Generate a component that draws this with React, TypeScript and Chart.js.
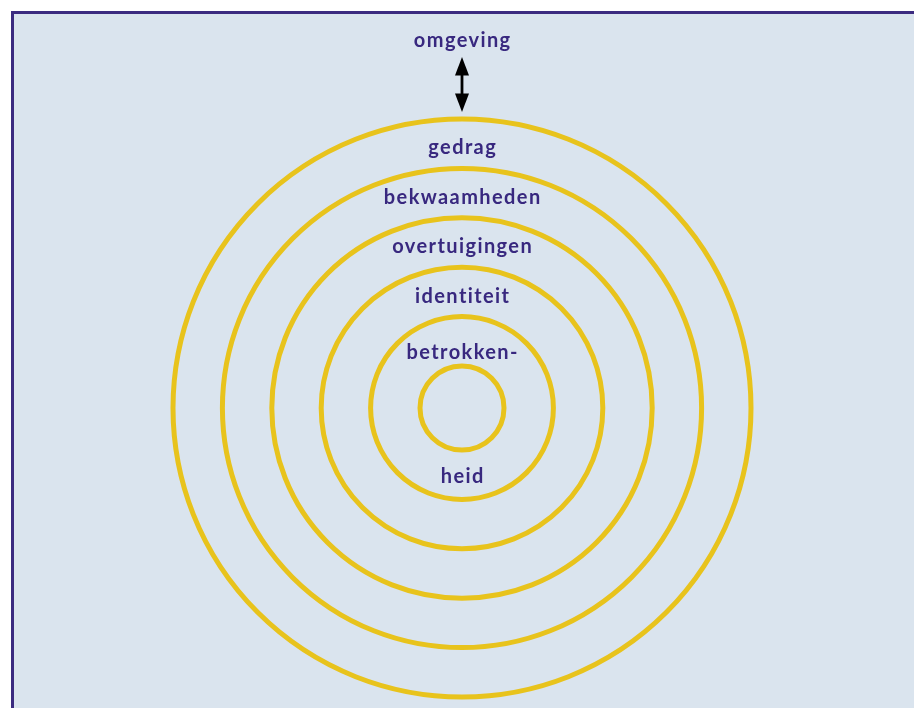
import React, { useEffect, useRef } from "react";
import { Chart, registerables } from "chart.js";

Chart.register(...registerables);

// Ring levels (innermost = 1, outermost = 6) drawn by the radial scale
const ringLevels = [1, 2, 3, 4, 5, 6];
// Layer names, inside-out; the innermost one is split over two lines
const layerLabels: string[][] = [
  ["betrokken-", "heid"],
  ["identiteit"],
  ["overtuigingen"],
  ["bekwaamheden"],
  ["gedrag"],
];
const environmentLabel = "omgeving";

const TEXT_COLOR = "#38287f";
const RING_COLOR = "#e8c31c";
const BG_COLOR = "#dae4ee";
const BORDER_COLOR = "#3b2b80";

const SCALE_MIN = 0.1498;
const SCALE_MAX = 6.2227;

const overlayPlugin = {
  id: "overlay",
  afterDraw(chart: any) {
    const s = chart.scales.r;
    const ctx: CanvasRenderingContext2D = chart.ctx;
    const cx = s.xCenter;
    const cy = s.yCenter;
    const rad = (v: number) => s.getDistanceFromCenterForValue(v);
    ctx.save();
    ctx.fillStyle = TEXT_COLOR;
    ctx.font = "bold 20px Lato";
    (ctx as any).letterSpacing = "1.4px";
    ctx.textAlign = "center";
    ctx.textBaseline = "alphabetic";

    layerLabels.forEach((lines, i) => {
      const level = ringLevels[i];
      if (lines.length === 2) {
        ctx.fillText(lines[0], cx + 0.7, cy - rad(level) - 7);
        ctx.fillText(lines[1], cx + 0.7, cy + rad(ringLevels[i + 1]) - 16);
      } else {
        ctx.fillText(lines[0], cx + 0.7, cy - rad(level) - 14);
      }
    });

    const outerTop = cy - rad(ringLevels[ringLevels.length - 1]);
    ctx.fillText(environmentLabel, cx + 0.7, outerTop - 72);

    // double-headed arrow
    const tipBottom = outerTop - 7;
    const tipTop = outerTop - 62;
    const headH = 18.5;
    const headW = 7;
    ctx.fillStyle = "#000";
    ctx.strokeStyle = "#000";
    ctx.lineWidth = 2.8;
    ctx.beginPath();
    ctx.moveTo(cx, tipTop + headH - 1);
    ctx.lineTo(cx, tipBottom - headH + 1);
    ctx.stroke();
    ctx.beginPath();
    ctx.moveTo(cx, tipTop);
    ctx.lineTo(cx - headW, tipTop + headH);
    ctx.lineTo(cx + headW, tipTop + headH);
    ctx.closePath();
    ctx.fill();
    ctx.beginPath();
    ctx.moveTo(cx, tipBottom);
    ctx.lineTo(cx - headW, tipBottom - headH);
    ctx.lineTo(cx + headW, tipBottom - headH);
    ctx.closePath();
    ctx.fill();
    ctx.restore();
  },
};

export default function App() {
  const ref = useRef<HTMLCanvasElement | null>(null);
  useEffect(() => {
    if (!ref.current) return;
    const chart = new Chart(ref.current, {
      type: "radar",
      data: {
        labels: layerLabels.map((l) => l.join("")),
        datasets: [{ data: [], borderWidth: 0, pointRadius: 0 }],
      },
      options: {
        animation: false,
        responsive: false,
        devicePixelRatio: 1,
        layout: { padding: { left: 0, right: 4, top: 94, bottom: 0 } },
        plugins: { legend: { display: false }, tooltip: { enabled: false }, title: { display: false } },
        scales: {
          r: {
            min: SCALE_MIN,
            max: SCALE_MAX,
            beginAtZero: false,
            angleLines: { display: false },
            pointLabels: { display: false },
            ticks: { display: false },
            grid: { circular: true, color: RING_COLOR, lineWidth: 5 },
            afterBuildTicks: (scale: any) => {
              scale.ticks = [{ value: scale.min }, ...ringLevels.map((v) => ({ value: v }))];
            },
          },
        },
      } as any,
      plugins: [overlayPlugin],
    });
    return () => chart.destroy();
  }, []);

  return (
    <div
      style={{
        position: "fixed",
        left: 11,
        top: 11,
        right: 0,
        bottom: 0,
        borderTop: `3px solid ${BORDER_COLOR}`,
        borderLeft: `3px solid ${BORDER_COLOR}`,
        background: BG_COLOR,
        overflow: "hidden",
      }}
    >
      <canvas ref={ref} width={900} height={694} style={{ display: "block", width: 900, height: 694 }} />
    </div>
  );
}
